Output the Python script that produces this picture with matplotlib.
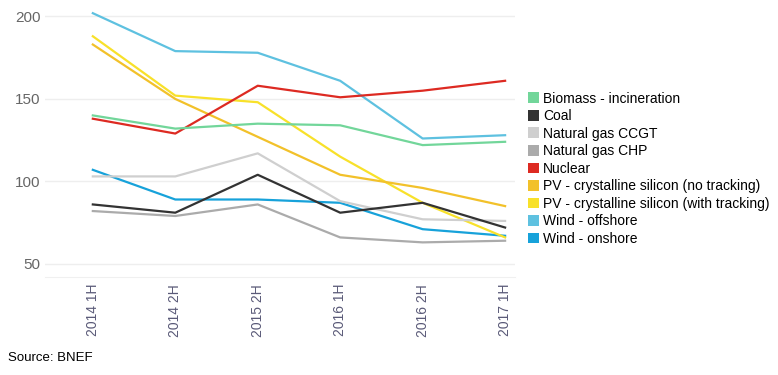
import matplotlib
matplotlib.use("Agg")
import matplotlib.pyplot as plt
from matplotlib.patches import Patch

plt.rcParams['font.family'] = ['Liberation Sans', 'DejaVu Sans']

periods = ['2014 1H', '2014 2H', '2015 2H', '2016 1H', '2016 2H', '2017 1H']

biomass = [140, 132, 135, 134, 122, 124]
coal = [86, 81, 104, 81, 87, 72]
gas_ccgt = [103, 103, 117, 88, 77, 76]
gas_chp = [82, 79, 86, 66, 63, 64]
nuclear = [138, 129, 158, 151, 155, 161]
pv_no_tracking = [183, 150, 127, 104, 96, 85]
pv_tracking = [188, 152, 148, 115, 87, 66]
wind_offshore = [202, 179, 178, 161, 126, 128]
wind_onshore = [107, 89, 89, 87, 71, 67]

series = [
    ('Biomass - incineration', biomass, '#72d69a'),
    ('Coal', coal, '#333333'),
    ('Natural gas CCGT', gas_ccgt, '#cfcfcf'),
    ('Natural gas CHP', gas_chp, '#ababab'),
    ('Nuclear', nuclear, '#dd2a22'),
    ('PV - crystalline silicon (no tracking)', pv_no_tracking, '#f2c12a'),
    ('PV - crystalline silicon (with tracking)', pv_tracking, '#f8e12a'),
    ('Wind - offshore', wind_offshore, '#5ec1e0'),
    ('Wind - onshore', wind_onshore, '#17a2da'),
]

fig = plt.figure(figsize=(7.78, 3.75), dpi=100)
ax = fig.add_axes([45 / 778, 1 - 277 / 375, 470 / 778, 277 / 375])

x = list(range(len(periods)))
# draw back to front so the top legend entries end up on top
for name, vals, col in series[::-1]:
    ax.plot(x, vals, '-', color=col, linewidth=1.6, solid_joinstyle='round')

ax.set_xlim(-0.58, 5.12)
ax.set_ylim(42, 210)
ax.set_yticks([50, 100, 150, 200])
ax.set_xticks(x)
ax.set_xticklabels(periods, rotation=90, color='#5a5a78', fontsize=10)
ax.tick_params(axis='y', labelsize=11, colors='#666666', length=0, pad=3)
ax.tick_params(axis='x', length=0, pad=5)
ax.grid(axis='y', color='#eeeeee', linewidth=1)
ax.set_axisbelow(True)
for s in ['top', 'right', 'left']:
    ax.spines[s].set_visible(False)
ax.spines['bottom'].set_color('#f0f0f0')

handles = [Patch(facecolor=col, edgecolor='none', label=name) for name, vals, col in series]
fig.legend(handles=handles, loc='upper left', bbox_to_anchor=(522 / 778, 1 - 86 / 375),
           frameon=False, fontsize=10, handlelength=0.8, handleheight=0.8,
           handletextpad=0.3, labelspacing=0.255, borderaxespad=0)

fig.text(8 / 778, 1 - 358 / 375, 'Source: BNEF', fontsize=9.5, va='center', ha='left')

fig.savefig('out.png', dpi=100)
